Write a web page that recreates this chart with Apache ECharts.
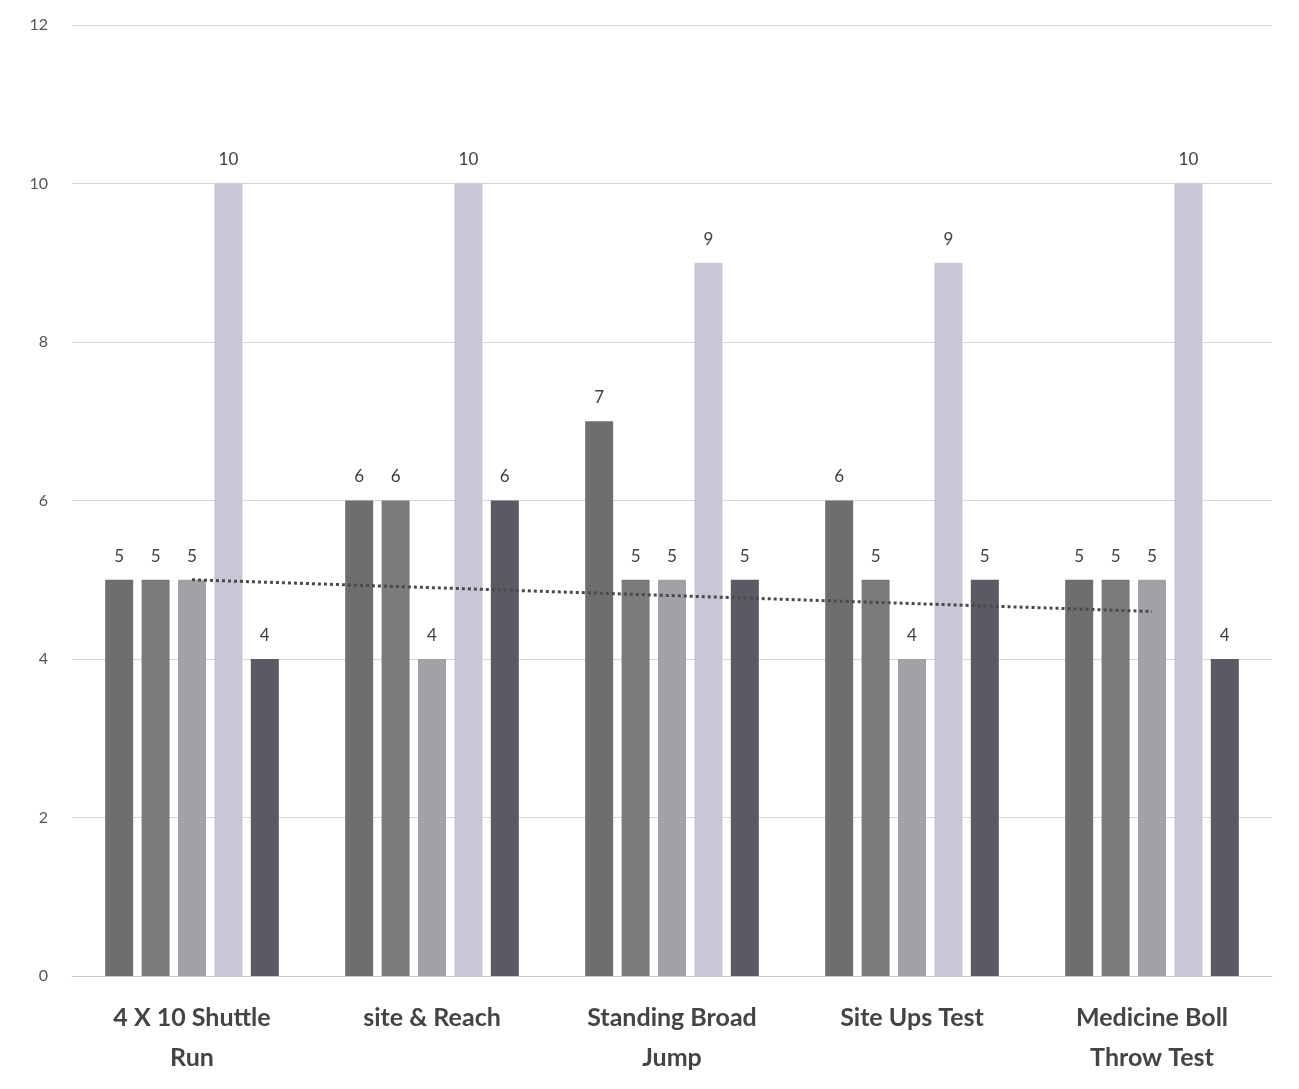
<!DOCTYPE html>
<html>
<head>
<meta charset="utf-8">
<script src="https://cdn.jsdelivr.net/npm/echarts@6/dist/echarts.min.js"></script>
<style>
  html, body { margin: 0; padding: 0; background: #fff; }
  #chart { width: 1299px; height: 1089px; }
</style>
</head>
<body>
<div id="chart"></div>
<script>
const categories = ['4 X 10 Shuttle\nRun', 'site & Reach', 'Standing Broad\nJump', 'Site Ups Test', 'Medicine Boll\nThrow Test']
const series1 = [5, 6, 7, 6, 5]
const series2 = [5, 6, 5, 5, 5]
const series3 = [5, 4, 5, 4, 5]
const series4 = [10, 10, 9, 9, 10]
const series5 = [4, 6, 5, 5, 4]
// dotted trend line
const trendValues = [5.0, 4.9, 4.8, 4.7, 4.6]
const yTicks = [0, 2, 4, 6, 8, 10, 12]

const colors = ['#6e6e6e', '#7b7b7b', '#a2a2a6', '#c9c7d6', '#5b5961']
const barData = [series1, series2, series3, series4, series5]

const chart = echarts.init(document.getElementById('chart'))

const label = {
  show: true,
  position: 'top',
  distance: 15,
  color: '#404040',
  fontSize: 17,
  fontFamily: 'Lato'
}

chart.setOption({
  animation: false,
  grid: {
    left: 72,
    right: 27,
    top: 25,
    bottom: 113
  },
  xAxis: {
    type: 'category',
    data: categories,
    axisTick: { show: false },
    axisLine: { lineStyle: { color: '#c8c8c8' } },
    axisLabel: {
      interval: 0,
      margin: 22,
      color: '#444',
      fontSize: 25,
      fontWeight: 'bold',
      fontFamily: 'Lato',
      lineHeight: 40
    }
  },
  yAxis: {
    type: 'value',
    min: yTicks[0],
    max: yTicks[yTicks.length - 1],
    interval: 2,
    axisLine: { show: false },
    axisTick: { show: false },
    axisLabel: {
      margin: 24,
      color: '#555',
      fontSize: 16,
      fontFamily: 'Lato'
    },
    splitLine: { lineStyle: { color: '#d6d6d6' } }
  },
  series: barData.map((d, i) => ({
    type: 'bar',
    name: 'S' + (i + 1),
    data: d,
    barWidth: 28,
    barGap: '30%',
    barCategoryGap: '26%',
    itemStyle: { color: colors[i] },
    label: label
  })).concat([{
    type: 'line',
    name: 'trend',
    data: trendValues,
    symbol: 'none',
    z: 5,
    lineStyle: { color: '#4a4a4a', width: 3, type: [3, 3] }
  }])
})
</script>
</body>
</html>
